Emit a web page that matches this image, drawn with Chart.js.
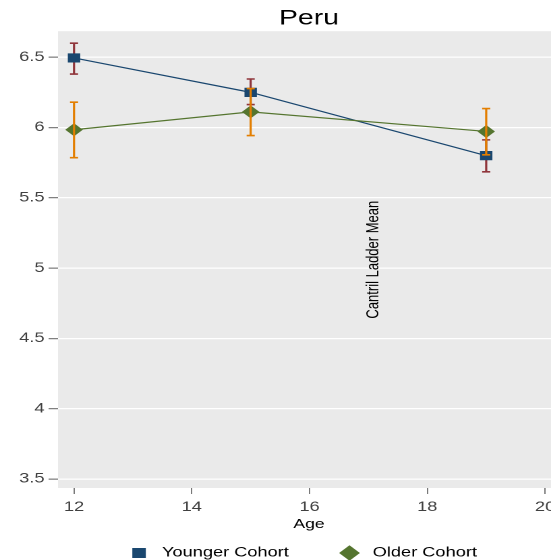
<!DOCTYPE html>
<html>
<head>
<meta charset="utf-8">
<script src="https://cdn.jsdelivr.net/npm/chart.js@4.4.1/dist/chart.umd.min.js"></script>
<style>
html, body { margin: 0; padding: 0; background: #fff; overflow: hidden; }
#wrap { width: 551px; height: 560px; overflow: hidden; }
canvas { display: block; }
</style>
</head>
<body>
<div id="wrap"><canvas id="c" width="430" height="570" style="width:580px;height:570px"></canvas></div>
<script>
// ages at each wave
const ages = [12, 15, 19];
// younger cohort: mean and 95% interval
const youngerMean = [6.495, 6.25, 5.80];
const youngerLow = [6.38, 6.163, 5.685];
const youngerHigh = [6.60, 6.345, 5.912];
// older cohort: mean and 95% interval
const olderMean = [5.984, 6.111, 5.972];
const olderLow = [5.785, 5.943, 5.806];
const olderHigh = [6.18, 6.277, 6.135];
// ticks
const xTicks = [12, 14, 16, 18, 20];
const yTicks = [3.5, 4, 4.5, 5, 5.5, 6, 6.5];
const seriesNames = ['Younger Cohort', 'Older Cohort'];

const FONT = '"Liberation Sans", Arial, sans-serif';
const navy = '#1a476f', maroon = '#90353b', green = '#55752f', orange = '#e37e00';

Chart.defaults.font.family = FONT;

// gray plot background
const plotBg = {
    id: 'plotBg',
    beforeDraw(chart) {
        const a = chart.chartArea, ctx = chart.ctx;
        ctx.save();
        ctx.fillStyle = '#eaeaea';
        ctx.fillRect(a.left, a.top, a.right - a.left, a.bottom - a.top);
        ctx.restore();
    }
};

// capped spikes
function drawCaps(chart, low, high, color) {
    const ctx = chart.ctx, xs = chart.scales.x, ys = chart.scales.y;
    ctx.save();
    ctx.strokeStyle = color;
    ctx.lineWidth = 1.6;
    ages.forEach((a, i) => {
        const x = xs.getPixelForValue(a);
        const y1 = ys.getPixelForValue(low[i]);
        const y2 = ys.getPixelForValue(high[i]);
        ctx.beginPath();
        ctx.moveTo(x, y1); ctx.lineTo(x, y2);
        ctx.moveTo(x - 3, y1); ctx.lineTo(x + 3, y1);
        ctx.moveTo(x - 3, y2); ctx.lineTo(x + 3, y2);
        ctx.stroke();
    });
    ctx.restore();
}

const errorBars = {
    id: 'errorBars',
    beforeDatasetsDraw(chart) { drawCaps(chart, youngerLow, youngerHigh, maroon); },
    afterDatasetsDraw(chart) { drawCaps(chart, olderLow, olderHigh, orange); }
};

// y title sits inside the plot, and the legend below
const extras = {
    id: 'extras',
    afterDraw(chart) {
        const ctx = chart.ctx, a = chart.chartArea;
        const xs = chart.scales.x, ys = chart.scales.y;
        ctx.save();
        ctx.fillStyle = '#000';
        ctx.font = '13px ' + FONT;
        ctx.textAlign = 'center';
        ctx.textBaseline = 'middle';
        ctx.translate(xs.getPixelForValue(17.09), ys.getPixelForValue(5.06));
        ctx.rotate(-Math.PI / 2);
        ctx.fillText('Cantril Ladder Mean', 0, 0);
        ctx.restore();

        const cx = (a.left + a.right) / 2, ly = 553;
        ctx.save();
        ctx.fillStyle = navy;
        ctx.fillRect(cx - 126 - 5, ly - 5, 10, 10);
        ctx.fillStyle = green;
        ctx.beginPath();
        ctx.moveTo(cx + 30 - 7.7, ly);
        ctx.lineTo(cx + 30, ly - 7.7);
        ctx.lineTo(cx + 30 + 7.7, ly);
        ctx.lineTo(cx + 30, ly + 7.7);
        ctx.closePath();
        ctx.fill();
        ctx.fillStyle = '#000';
        ctx.font = '13.5px ' + FONT;
        ctx.textAlign = 'left';
        ctx.textBaseline = 'middle';
        ctx.fillText(seriesNames[0], cx - 109, ly);
        ctx.fillText(seriesNames[1], cx + 47.2, ly);
        ctx.restore();
    }
};

const config = {
    type: 'line',
    data: {
        datasets: [
            {
                label: seriesNames[0],
                data: ages.map((a, i) => ({ x: a, y: youngerMean[i] })),
                borderColor: navy,
                backgroundColor: navy,
                borderWidth: 1.2,
                pointStyle: 'rect',
                pointRadius: 6.5,
                pointBorderWidth: 0,
                order: 2,
            },
            {
                label: seriesNames[1],
                data: ages.map((a, i) => ({ x: a, y: olderMean[i] })),
                borderColor: green,
                backgroundColor: green,
                borderWidth: 1.2,
                pointStyle: 'rectRot',
                pointRadius: 6.5,
                pointBorderWidth: 0,
                order: 1,
            }
        ]
    },
    options: {
        responsive: false,
        animation: false,
        devicePixelRatio: 2,
        layout: { padding: { left: 0, right: 14.8, top: 0, bottom: 34 } },
        plugins: {
            legend: { display: false },
            tooltip: { enabled: false },
            title: {
                display: true,
                text: 'Peru',
                color: '#000',
                fullSize: false,
                font: { size: 21, weight: 'normal' },
                padding: { top: 6, bottom: 0 },
            },
        },
        scales: {
            x: {
                type: 'linear',
                min: 11.728,
                max: 20.254,
                afterBuildTicks: s => { s.ticks = xTicks.map(v => ({ value: v })); },
                afterFit: s => { s.height = 48; },
                border: { display: false },
                grid: { drawOnChartArea: false, tickColor: '#7a7a7a', tickLength: 6, tickWidth: 1 },
                ticks: { color: '#404040', font: { size: 13.5 }, padding: 5, maxRotation: 0,
                    callback: v => String(v) },
                title: { display: true, text: 'Age', color: '#000', font: { size: 13 },
                    padding: { top: 0, bottom: 4 } },
            },
            y: {
                min: 3.436,
                max: 6.685,
                afterBuildTicks: s => { s.ticks = yTicks.map(v => ({ value: v })); },
                afterFit: s => { s.width = 43; },
                border: { display: false },
                grid: { color: '#ffffff', lineWidth: 1.3, tickColor: '#7a7a7a', tickLength: 7, tickWidth: 1.2 },
                ticks: { color: '#404040', font: { size: 13.5 }, padding: 3,
                    callback: v => String(v) },
            },
        },
    },
    plugins: [plotBg, errorBars, extras],
};

new Chart(document.getElementById('c'), config);
</script>
</body>
</html>
